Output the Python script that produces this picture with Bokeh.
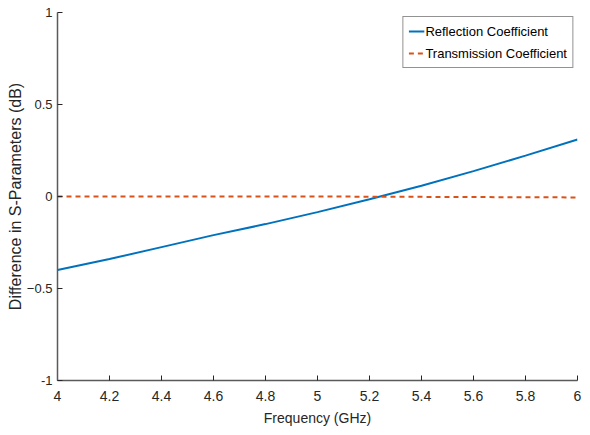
from bokeh.plotting import figure
from bokeh.embed import file_html
from bokeh.resources import INLINE
from bokeh.models import Range1d, FixedTicker, Legend, LegendItem

freq = [4.0, 4.2, 4.4, 4.6, 4.8, 5.0, 5.2, 5.4, 5.6, 5.8, 6.0]
reflection = [-0.400, -0.340, -0.275, -0.210, -0.150, -0.085, -0.015, 0.058, 0.138, 0.222, 0.310]
transmission = [0.0, 0.0, 0.0, 0.0, 0.0, 0.0, -0.001, -0.002, -0.003, -0.004, -0.005]
x_ticks = [4, 4.2, 4.4, 4.6, 4.8, 5, 5.2, 5.4, 5.6, 5.8, 6]
y_ticks = [-1, -0.5, 0, 0.5, 1]

FONT = "Liberation Sans"

p = figure(width=590, height=435, output_backend="svg", toolbar_location=None,
           x_range=Range1d(4, 6), y_range=Range1d(-1, 1),
           min_border_left=57, min_border_right=13, min_border_top=12, min_border_bottom=55)
p.outline_line_color = None
p.xgrid.visible = False
p.ygrid.visible = False

r1 = p.line(freq, reflection, line_color="#0072BD", line_width=2)
r2 = p.line(freq, transmission, line_color="#D95319", line_width=2, line_dash="5 4")

for ax in (p.xaxis[0], p.yaxis[0]):
    ax.axis_line_color = "#5a5a5a"
    ax.axis_line_width = 1.5
    ax.major_tick_line_color = "#262626"
    ax.major_tick_in = 5
    ax.major_tick_out = 0
    ax.minor_tick_in = 0
    ax.minor_tick_out = 0
    ax.major_label_text_font = FONT
    ax.major_label_text_font_size = "14px"
    ax.major_label_text_color = "#262626"
    ax.axis_label_text_font = FONT
    ax.axis_label_text_font_size = "14px"
    ax.axis_label_text_font_style = "normal"
    ax.axis_label_text_color = "#262626"

p.yaxis[0].major_label_text_font_size = "13px"
p.yaxis[0].axis_label_text_font_size = "16px"
p.xaxis[0].ticker = FixedTicker(ticks=x_ticks)
p.yaxis[0].ticker = FixedTicker(ticks=y_ticks)
p.xaxis[0].major_label_overrides = {4: "4", 5: "5", 6: "6"}
p.yaxis[0].major_label_overrides = {-1: "-1", 0: "0", 1: "1"}
p.xaxis[0].axis_label = "Frequency (GHz)"
p.yaxis[0].axis_label = "Difference in S-Parameters (dB)"
p.xaxis[0].major_label_standoff = 10
p.yaxis[0].major_label_standoff = 5
p.xaxis[0].axis_label_standoff = 6
p.yaxis[0].axis_label_standoff = 0

legend = Legend(items=[LegendItem(label="Reflection Coefficient", renderers=[r1]),
                       LegendItem(label="Transmission Coefficient", renderers=[r2])],
                location="top_right")
legend.label_text_font = FONT
legend.label_text_font_size = "13px"
legend.label_text_color = "#000000"
legend.border_line_color = "#262626"
legend.border_line_width = 1
legend.glyph_width = 16
legend.glyph_height = 18
legend.label_standoff = 1
legend.spacing = 4
legend.padding = 5
legend.margin = 4
legend.label_height = 18
legend.background_fill_alpha = 1
p.add_layout(legend)

open("out.html", "w").write(file_html(p, INLINE))
